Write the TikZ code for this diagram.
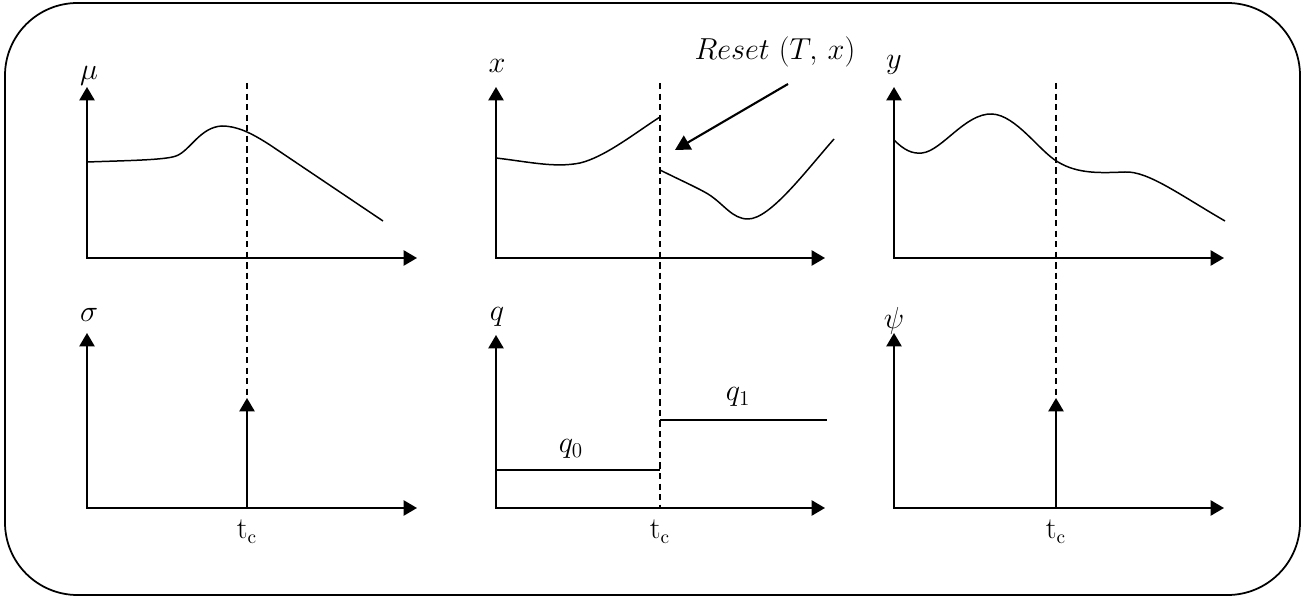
\documentclass[tikz,border=0pt]{standalone}
\usetikzlibrary{arrows.meta}
\begin{document}
\begin{tikzpicture}[x=0.02cm,y=-0.02cm,
  frame/.style={line width=1pt, rounded corners=1.45cm},
  axes/.style={line width=1.2pt, {Triangle[length=7.6pt,width=8.6pt]}-{Triangle[length=7.6pt,width=8.6pt]}},
  impulse/.style={line width=1.2pt, -{Triangle[length=7.6pt,width=8.6pt]}},
  resetarrow/.style={line width=1.2pt, -{Triangle[length=8.5pt,width=9pt]}},
  curve/.style={line width=0.85pt},
  dashline/.style={line width=0.9pt, dash pattern=on 3.6pt off 2.4pt},
  lbl/.style={font=\fontsize{17}{19}\selectfont, inner sep=0pt, anchor=base},
  tlbl/.style={font=\fontsize{16}{18}\selectfont, inner sep=0pt, anchor=base}]
\useasboundingbox (0,0) rectangle (1308,597);
\draw[frame] (5,3) rectangle (1300,595);

% ---------- top-left: mu ----------
\coordinate (oA) at (87,258); \coordinate (yA) at (87,87); \coordinate (xA) at (417,258);
\draw[axes] (yA) -- (oA) -- (xA);
\node[lbl] (muL) at (89,80) {$\mu$};
\draw[curve] (87,162) .. controls (130,160.5) and (165,160) .. (176,156)
  .. controls (190,151) and (200,127) .. (222,126)
  .. controls (236,126) and (250,132) .. (270,145) -- (383,221);

% ---------- top-middle: x ----------
\coordinate (oB) at (496,258); \coordinate (yB) at (496,87); \coordinate (xB) at (825,258);
\draw[axes] (yB) -- (oB) -- (xB);
\node[lbl] (xL) at (497,73) {$x$};
\draw[curve] (496,158) .. controls (530,162) and (555,168) .. (580,163)
  .. controls (605,157) and (635,133) .. (660,117);
\draw[curve] (660,170) .. controls (680,180) and (698,188) .. (708,194)
  .. controls (724,204) and (732,219) .. (748,219)
  .. controls (770,219) and (805,172) .. (834,139);
\node[lbl] (resetL) at (775,60) {$Reset\ (T,\,x)$};
\coordinate (rs) at (788,84); \coordinate (rt) at (675,150);
\draw[resetarrow] (rs) -- (rt);

% ---------- top-right: y ----------
\coordinate (oC) at (894,258); \coordinate (yC) at (894,87); \coordinate (xC) at (1224,258);
\draw[axes] (yC) -- (oC) -- (xC);
\node[lbl] (yL) at (894,69) {$y$};
\draw[curve] (894,140) .. controls (904,150) and (912,154) .. (922,153)
  .. controls (942,151) and (965,113) .. (992,114)
  .. controls (1016,115) and (1040,152) .. (1058,162)
  .. controls (1078,174) and (1100,173) .. (1125,172)
  .. controls (1148,171) and (1180,195) .. (1225,221);

% ---------- bottom-left: sigma ----------
\coordinate (oD) at (87,508); \coordinate (yD) at (87,333); \coordinate (xD) at (417,508);
\draw[axes] (yD) -- (oD) -- (xD);
\node[lbl] (sigL) at (89,322) {$\sigma$};
\coordinate (tcA) at (247,508); \coordinate (impA) at (247,398); \coordinate (dA) at (247,83);
\draw[impulse] (tcA) -- (impA);
\draw[dashline] (dA) -- (impA);
\node[tlbl] (tcAL) at (247,539) {$\mathrm{t_c}$};

% ---------- bottom-middle: q ----------
\coordinate (oE) at (496,508); \coordinate (yE) at (496,335); \coordinate (xE) at (825,508);
\draw[axes] (yE) -- (oE) -- (xE);
\node[lbl] (qL) at (497,321) {$q$};
\coordinate (q0a) at (496,470); \coordinate (q0b) at (660,470);
\coordinate (q1a) at (660,420); \coordinate (q1b) at (827,420);
\draw[curve] (q0a) -- (q0b);
\draw[curve] (q1a) -- (q1b);
\node[lbl] (q0L) at (571,453) {$q_0$};
\node[lbl] (q1L) at (738,401) {$q_1$};
\coordinate (dB) at (660,83); \coordinate (tcB) at (660,508);
\draw[dashline] (dB) -- (tcB);
\node[tlbl] (tcBL) at (660,539) {$\mathrm{t_c}$};

% ---------- bottom-right: psi ----------
\coordinate (oF) at (894,508); \coordinate (yF) at (894,333); \coordinate (xF) at (1224,508);
\draw[axes] (yF) -- (oF) -- (xF);
\node[lbl] (psiL) at (894,329) {$\psi$};
\coordinate (tcC) at (1056,508); \coordinate (impC) at (1056,398); \coordinate (dC) at (1056,83);
\draw[impulse] (tcC) -- (impC);
\draw[dashline] (dC) -- (impC);
\node[tlbl] (tcCL) at (1056,539) {$\mathrm{t_c}$};
\end{tikzpicture}
\end{document}
